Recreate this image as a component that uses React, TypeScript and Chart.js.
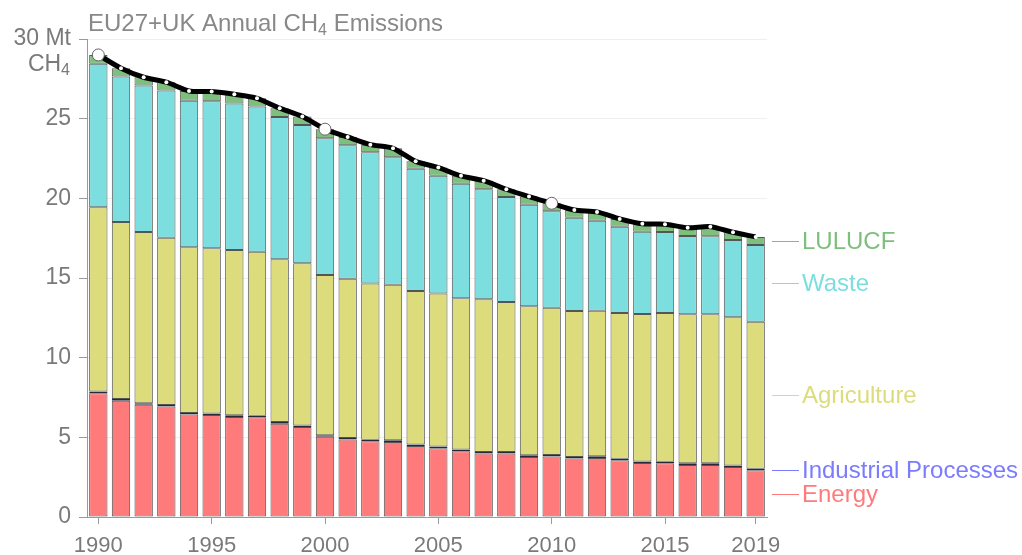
import React, { useEffect, useRef } from 'react';
import { Chart, registerables } from 'chart.js';

Chart.register(...registerables);

const years = ['1990', '1991', '1992', '1993', '1994', '1995', '1996', '1997', '1998', '1999', '2000', '2001', '2002', '2003', '2004', '2005', '2006', '2007', '2008', '2009', '2010', '2011', '2012', '2013', '2014', '2015', '2016', '2017', '2018', '2019'];

const energy = [7.77, 7.3, 7.04, 6.93, 6.43, 6.4, 6.28, 6.26, 5.86, 5.65, 5.03, 4.86, 4.75, 4.71, 4.45, 4.32, 4.13, 3.98, 3.98, 3.77, 3.79, 3.67, 3.71, 3.56, 3.39, 3.37, 3.27, 3.27, 3.14, 2.93];
const industrialProcesses = [0.1, 0.1, 0.1, 0.1, 0.1, 0.1, 0.1, 0.1, 0.1, 0.1, 0.1, 0.1, 0.1, 0.1, 0.1, 0.1, 0.1, 0.1, 0.1, 0.1, 0.1, 0.1, 0.1, 0.1, 0.1, 0.1, 0.1, 0.1, 0.1, 0.1];
const agriculture = [11.57, 11.12, 10.75, 10.5, 10.4, 10.37, 10.38, 10.29, 10.22, 10.18, 10.06, 10.0, 9.8, 9.77, 9.63, 9.6, 9.5, 9.59, 9.42, 9.36, 9.25, 9.16, 9.14, 9.15, 9.25, 9.34, 9.35, 9.35, 9.29, 9.23];
const waste = [9.0, 9.12, 9.19, 9.23, 9.2, 9.23, 9.19, 9.11, 8.93, 8.68, 8.58, 8.37, 8.24, 8.0, 7.67, 7.39, 7.19, 6.9, 6.59, 6.36, 6.05, 5.85, 5.65, 5.41, 5.17, 5.08, 4.92, 4.9, 4.86, 4.81];
const lulucf = [0.56, 0.53, 0.52, 0.53, 0.61, 0.6, 0.58, 0.52, 0.55, 0.52, 0.57, 0.52, 0.48, 0.56, 0.47, 0.52, 0.49, 0.54, 0.48, 0.52, 0.5, 0.49, 0.55, 0.49, 0.49, 0.49, 0.51, 0.6, 0.48, 0.51];

const xTickLabels = ['1990', '1995', '2000', '2005', '2010', '2015', '2019'];
const yTickValues = [0, 5, 10, 15, 20, 25, 30];
const highlightedYears = ['1990', '2000', '2010'];

const FONT = '"Liberation Sans", Arial, Helvetica, sans-serif';
const TEXT_GRAY = '#7a7a7a';

const COLORS = {
  energy: '#ff7b7b',
  industrial: '#7b7bff',
  agriculture: '#dcdc7c',
  waste: '#7cdede',
  lulucf: '#7dbf7d',
};

const seriesDefs = [
  { name: 'Energy', data: energy, color: COLORS.energy, fill: COLORS.energy, border: 'rgba(55,55,55,0.85)' },
  { name: 'Industrial Processes', data: industrialProcesses, color: COLORS.industrial, fill: '#2c2c4c', border: 'rgba(30,30,50,0.95)' },
  { name: 'Agriculture', data: agriculture, color: COLORS.agriculture, fill: COLORS.agriculture, border: 'rgba(55,55,55,0.85)' },
  { name: 'Waste', data: waste, color: COLORS.waste, fill: COLORS.waste, border: 'rgba(55,55,55,0.85)' },
  { name: 'LULUCF', data: lulucf, color: COLORS.lulucf, fill: COLORS.lulucf, border: 'rgba(55,55,55,0.85)' },
];

const totals = years.map((_, i) => seriesDefs.reduce((s, d) => s + d.data[i], 0));

const annotationPlugin = {
  id: 'annotations',
  afterDraw(chart: any) {
    const ctx = chart.ctx as CanvasRenderingContext2D;
    const yScale = chart.scales.y;
    const area = chart.chartArea;
    ctx.save();

    // Title
    ctx.fillStyle = '#888888';
    ctx.textAlign = 'left';
    ctx.textBaseline = 'alphabetic';
    let x = area.left + 1;
    ctx.font = `24px ${FONT}`;
    const t1 = 'EU27+UK Annual CH';
    ctx.fillText(t1, x, 31);
    x += ctx.measureText(t1).width;
    ctx.font = `16px ${FONT}`;
    ctx.fillText('4', x, 35);
    x += ctx.measureText('4').width;
    ctx.font = `24px ${FONT}`;
    ctx.fillText(' Emissions', x, 31);

    // Unit under top tick
    ctx.fillStyle = TEXT_GRAY;
    ctx.font = `16px ${FONT}`;
    const subW = ctx.measureText('4').width;
    ctx.font = `23px ${FONT}`;
    const chW = ctx.measureText('CH').width;
    const right = 70;
    ctx.fillText('CH', right - subW - chW, 71);
    ctx.font = `16px ${FONT}`;
    ctx.fillText('4', right - subW, 75);

    // Series labels at right
    const last = years.length - 1;
    let cum = 0;
    ctx.font = `24px ${FONT}`;
    ctx.textBaseline = 'middle';
    seriesDefs.forEach((s) => {
      const v = s.data[last];
      const mid = cum + v / 2;
      cum += v;
      const py = Math.round(yScale.getPixelForValue(mid)) + 0.5;
      ctx.strokeStyle = s.color;
      ctx.lineWidth = 1;
      ctx.beginPath();
      ctx.moveTo(772, py);
      ctx.lineTo(799, py);
      ctx.stroke();
      ctx.fillStyle = s.color;
      ctx.fillText(s.name, 802, py + 1);
    });

    ctx.restore();
  },
};

export default function App() {
  const canvasRef = useRef<HTMLCanvasElement | null>(null);

  useEffect(() => {
    if (!canvasRef.current) return;
    const barDatasets = seriesDefs.map((s) => ({
      type: 'bar' as const,
      label: s.name,
      data: s.data,
      backgroundColor: s.fill,
      borderColor: s.border,
      borderWidth: 1,
      borderSkipped: false as const,
      barPercentage: 0.81,
      categoryPercentage: 1.0,
      stack: 'sectors',
      order: 1,
    }));

    const lineDataset = {
      type: 'line' as const,
      label: 'Total',
      data: totals,
      borderColor: '#000000',
      borderWidth: 5,
      tension: 0.25,
      fill: false,
      stack: 'total',
      order: 0,
      pointRadius: years.map((y) => (highlightedYears.includes(y) ? 6 : 2)),
      pointBackgroundColor: '#ffffff',
      pointBorderColor: years.map((y) => (highlightedYears.includes(y) ? '#666666' : '#ffffff')),
      pointBorderWidth: years.map((y) => (highlightedYears.includes(y) ? 1 : 0)),
    };

    const chart = new Chart(canvasRef.current, {
      type: 'bar',
      data: {
        labels: years,
        datasets: [...barDatasets, lineDataset] as any,
      },
      options: {
        animation: false,
        responsive: true,
        maintainAspectRatio: false,
        layout: { padding: { left: 0, right: 255, top: 39, bottom: 0 } },
        plugins: {
          legend: { display: false },
          tooltip: { enabled: false },
          title: { display: false },
        },
        scales: {
          x: {
            stacked: true,
            offset: true,
            grid: {
              offset: false,
              drawOnChartArea: false,
              tickLength: 7,
              tickColor: (c: any) => (xTickLabels.includes(years[c.index]) ? '#9a9a9a' : 'rgba(0,0,0,0)'),
            },
            border: { color: '#9a9a9a', width: 1 },
            ticks: {
              autoSkip: false,
              maxRotation: 0,
              padding: 9,
              color: TEXT_GRAY,
              font: { family: FONT, size: 22 },
              callback: (_v: any, i: number) => (xTickLabels.includes(years[i]) ? years[i] : ''),
            },
            afterFit: (scale: any) => {
              scale.height = 38;
            },
          },
          y: {
            stacked: true,
            min: 0,
            max: 30,
            afterBuildTicks: (scale: any) => {
              scale.ticks = yTickValues.map((v) => ({ value: v }));
            },
            grid: {
              color: (c: any) => (c.tick && c.tick.value === 0 ? 'rgba(0,0,0,0)' : '#efefef'),
              tickColor: '#9a9a9a',
              tickLength: 8,
              lineWidth: 1,
            },
            border: { color: '#9a9a9a', width: 1 },
            ticks: {
              padding: 8,
              color: TEXT_GRAY,
              font: { family: FONT, size: 23 },
              callback: (v: any) => (v === 30 ? '30 Mt' : String(v)),
            },
            afterFit: (scale: any) => {
              scale.width = 87;
            },
          },
        },
      },
      plugins: [annotationPlugin],
    });

    return () => chart.destroy();
  }, []);

  return (
    <div style={{ position: 'fixed', left: 0, top: 0, width: 1022, height: 555, background: '#ffffff' }}>
      <canvas ref={canvasRef} />
    </div>
  );
}
